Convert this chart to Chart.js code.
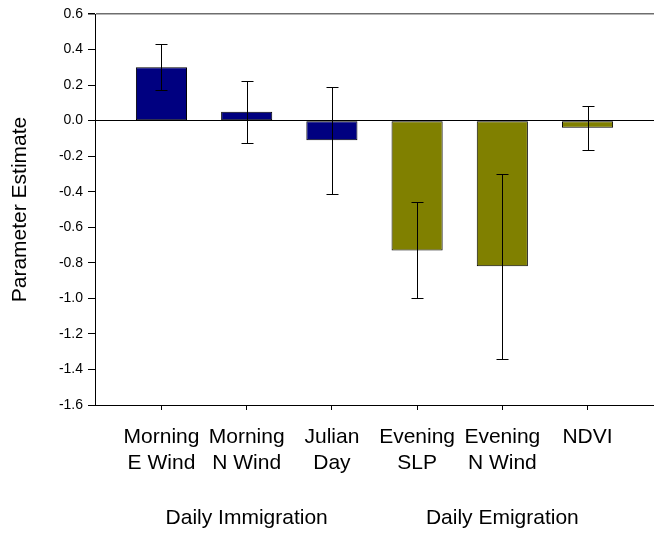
<!DOCTYPE html>
<html>
<head>
<meta charset="utf-8">
<script src="https://cdn.jsdelivr.net/npm/chart.js@4/dist/chart.umd.min.js"></script>
<style>
  body { margin: 0; background: #fff; }
</style>
</head>
<body>
<canvas id="graficoEstimados" width="654" height="535"></canvas>
<script>
// categorias del eje x (cada una partida en lineas)
const categorias = [
    ['Morning', 'E Wind'],
    ['Morning', 'N Wind'],
    ['Julian', 'Day'],
    ['Evening', 'SLP'],
    ['Evening', 'N Wind'],
    ['NDVI']
];
// a que grupo pertenece cada categoria
const grupoCategoria = [0, 0, 0, 1, 1, 1];
const etiquetasGrupo = ['Daily Immigration', 'Daily Emigration'];

// estimados y su error (+/-)
const estimados = [0.30, 0.05, -0.11, -0.73, -0.82, -0.04];
const errores = [0.13, 0.175, 0.30, 0.27, 0.52, 0.125];

// marcas del eje y
const marcasY = [0.6, 0.4, 0.2, 0.0, -0.2, -0.4, -0.6, -0.8, -1.0, -1.2, -1.4, -1.6];

const fuente = "'Liberation Sans', Arial, sans-serif";
const coloresGrupo = ['#000080', '#808000'];

/**
 * centro (en indice de categoria) de cada grupo
 */
function obtenerCentrosGrupo() {
    return etiquetasGrupo.map((_, g) => {
        const indices = grupoCategoria.map((gc, i) => gc === g ? i : null).filter(i => i !== null);
        return indices.reduce((a, b) => a + b, 0) / indices.length;
    });
}

/**
 * dibuja las barras de error encima de las barras
 */
const barrasError = {
    id: 'barrasError',
    afterDatasetsDraw(chart) {
        const ctx = chart.ctx;
        const x = chart.scales.x;
        const y = chart.scales.y;
        ctx.save();
        ctx.strokeStyle = '#000';
        ctx.lineWidth = 1;
        for (let i = 0; i < estimados.length; i++) {
            const px = Math.round(x.getPixelForValue(i)) + 0.5;
            const arriba = Math.round(y.getPixelForValue(estimados[i] + errores[i])) + 0.5;
            const abajo = Math.round(y.getPixelForValue(estimados[i] - errores[i])) + 0.5;
            ctx.beginPath();
            ctx.moveTo(px, arriba);
            ctx.lineTo(px, abajo);
            ctx.moveTo(px - 6, arriba);
            ctx.lineTo(px + 6, arriba);
            ctx.moveTo(px - 6, abajo);
            ctx.lineTo(px + 6, abajo);
            ctx.stroke();
        }
        ctx.restore();
    }
};

const centrosGrupo = obtenerCentrosGrupo();

new Chart(document.getElementById('graficoEstimados'), {
    type: 'bar',
    data: {
        datasets: [{
            data: estimados.map((v, i) => ({ x: i, y: v })),
            backgroundColor: grupoCategoria.map(g => coloresGrupo[g]),
            borderColor: '#000',
            borderWidth: 1,
            borderSkipped: false,
            barPercentage: 0.6,
            categoryPercentage: 1
        }]
    },
    options: {
        responsive: false,
        devicePixelRatio: 1,
        animation: false,
        layout: { padding: { top: 14, right: 0, bottom: 0, left: 0 } },
        plugins: {
            legend: { display: false },
            tooltip: { enabled: false }
        },
        scales: {
            x: {
                type: 'linear',
                position: 'bottom',
                weight: 0,
                offset: false,
                min: -0.78,
                max: 5.78,
                afterBuildTicks: (eje) => {
                    eje.ticks = categorias.map((_, i) => ({ value: i }));
                },
                afterFit: (eje) => { eje.height = 85; },
                grid: {
                    offset: false,
                    drawOnChartArea: false,
                    drawTicks: true,
                    tickLength: 5,
                    color: '#000'
                },
                border: { display: true, color: '#000', width: 1 },
                ticks: {
                    autoSkip: false,
                    maxRotation: 0,
                    padding: 15,
                    color: '#000',
                    font: { family: fuente, size: 21, lineHeight: 1.2 },
                    callback: (valor) => categorias[Math.round(valor)] || ''
                }
            },
            x2: {
                type: 'linear',
                position: 'bottom',
                weight: 1,
                offset: false,
                min: -0.78,
                max: 5.78,
                afterBuildTicks: (eje) => {
                    eje.ticks = centrosGrupo.map(v => ({ value: v }));
                },
                afterFit: (eje) => { eje.height = 45; },
                grid: { display: false, offset: false },
                border: { display: false },
                ticks: {
                    autoSkip: false,
                    maxRotation: 0,
                    padding: 8,
                    color: '#000',
                    font: { family: fuente, size: 21, lineHeight: 1.2 },
                    callback: (valor, indice) => etiquetasGrupo[indice]
                }
            },
            y: {
                min: marcasY[marcasY.length - 1],
                max: marcasY[0],
                afterBuildTicks: (eje) => {
                    eje.ticks = marcasY.map(v => ({ value: v }));
                },
                afterFit: (eje) => { eje.width = 95; },
                grid: {
                    drawTicks: true,
                    tickLength: 7,
                    tickColor: '#000',
                    color: (c) => {
                        const v = c.tick ? c.tick.value : null;
                        if (v === null) return 'rgba(0,0,0,0)';
                        if (Math.abs(v) < 1e-9) return '#000';
                        if (Math.abs(v - marcasY[0]) < 1e-9) return '#6e6e6e';
                        return 'rgba(0,0,0,0)';
                    },
                    lineWidth: (c) => (c.tick && Math.abs(c.tick.value - marcasY[0]) < 1e-9) ? 1.5 : 1
                },
                border: { display: true, color: '#000', width: 1 },
                ticks: {
                    padding: 5,
                    color: '#000',
                    font: { family: fuente, size: 14 },
                    callback: (valor) => Math.abs(valor) < 1e-9 ? '0.0' : valor.toFixed(1)
                },
                title: {
                    display: true,
                    text: 'Parameter Estimate',
                    color: '#000',
                    font: { family: fuente, size: 21, lineHeight: 1.2 },
                    padding: { top: 8, bottom: 0 }
                }
            }
        }
    },
    plugins: [barrasError]
});
</script>
</body>
</html>
